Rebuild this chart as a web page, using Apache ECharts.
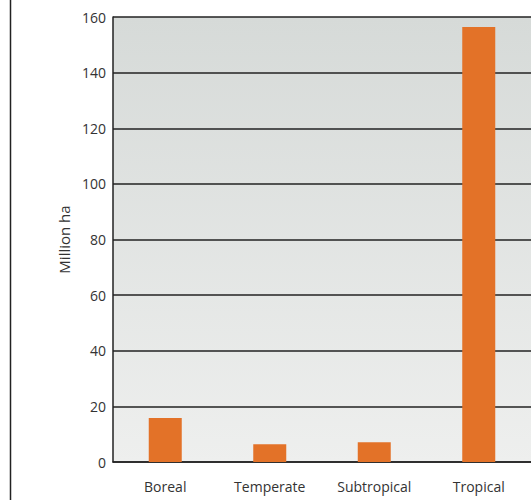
<!DOCTYPE html>
<html>
<head>
<meta charset="utf-8">
<script src="https://cdn.jsdelivr.net/npm/echarts@6/dist/echarts.min.js"></script>
<style>
  html, body { margin: 0; padding: 0; background: #fff; }
  #chart { width: 531px; height: 500px; }
</style>
</head>
<body>
<div id="chart"></div>
<script>
var categories = ['Boreal', 'Temperate', 'Subtropical', 'Tropical'];
var values = [15.8, 6.4, 7.1, 156.4];
var yTicks = { min: 0, max: 160, interval: 20 };

var chart = echarts.init(document.getElementById('chart'), null, { renderer: 'svg' });
chart.setOption({
  animation: false,
  textStyle: { fontFamily: 'Open Sans, sans-serif' },
  grid: {
    left: 113, right: -2, top: 17, bottom: 38,
    show: true,
    borderWidth: 0,
    backgroundColor: new echarts.graphic.LinearGradient(0, 0, 0, 1, [
      { offset: 0, color: '#d6dad8' },
      { offset: 1, color: '#eeefee' }
    ])
  },
  graphic: [{
    type: 'line',
    shape: { x1: 10.5, y1: 0, x2: 10.5, y2: 500 },
    style: { stroke: '#222', lineWidth: 1.5 }
  }],
  xAxis: {
    type: 'category',
    data: categories,
    axisTick: { show: false },
    axisLine: { lineStyle: { color: '#222', width: 1.5 } },
    axisLabel: { color: '#333', fontSize: 14, margin: 17 }
  },
  yAxis: {
    type: 'value',
    min: yTicks.min, max: yTicks.max, interval: yTicks.interval,
    name: 'Million ha',
    nameLocation: 'middle',
    nameGap: 38,
    nameTextStyle: { color: '#333', fontSize: 15 },
    axisLine: { show: true, lineStyle: { color: '#222', width: 1.5 } },
    axisTick: { show: false },
    axisLabel: { color: '#333', fontSize: 14, margin: 7 },
    splitLine: { lineStyle: { color: '#222', width: 1.5 } }
  },
  series: [{
    type: 'bar',
    data: values,
    barWidth: 33,
    itemStyle: { color: '#e37228' }
  }]
});
</script>
</body>
</html>
